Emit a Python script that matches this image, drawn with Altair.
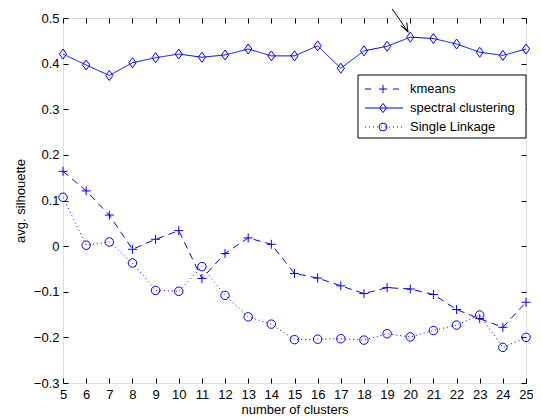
import altair as alt
import pandas as pd

# ---------------- data ----------------
clusters = list(range(5, 26))
kmeans = [0.164, 0.121, 0.068, -0.007, 0.015, 0.034, -0.071, -0.016, 0.018, 0.004,
          -0.060, -0.070, -0.087, -0.104, -0.091, -0.094, -0.106, -0.139, -0.159, -0.178, -0.123]
spectral = [0.421, 0.397, 0.374, 0.402, 0.413, 0.421, 0.414, 0.419, 0.432, 0.417,
            0.417, 0.439, 0.390, 0.428, 0.438, 0.458, 0.455, 0.443, 0.425, 0.418, 0.432]
single = [0.107, 0.002, 0.009, -0.037, -0.097, -0.099, -0.045, -0.108, -0.155, -0.171,
          -0.205, -0.204, -0.203, -0.206, -0.192, -0.199, -0.185, -0.173, -0.151, -0.222, -0.200]

series_names = ["kmeans", "spectral clustering", "Single Linkage"]
x_ticks = list(range(5, 26))
y_ticks = [-0.3, -0.2, -0.1, 0.0, 0.1, 0.2, 0.3, 0.4, 0.5]

# annotation arrow (data coordinates)
arrow_x = [19.22, 19.90]
arrow_y = [0.520, 0.470]

BLUE = "#0000ff"
FONT = "Liberation Sans"
FS = 13
W, H = 463, 365

xscale = alt.Scale(domain=[5, 25], nice=False, zero=False)
yscale = alt.Scale(domain=[-0.3, 0.5], nice=False, zero=False)

PLUS = "M-1,0L1,0M0,-1L0,1"
DIAMOND = "M0,-1L0.72,0L0,1L-0.72,0Z"

axis_common = dict(grid=False, domain=False, tickSize=5, offset=-5, tickColor="black",
                   tickWidth=1, labelFont=FONT, labelFontSize=FS, labelColor="black",
                   titleFont=FONT, titleFontSize=FS, titleFontWeight="normal",
                   titleColor="black", labelOverlap=False, labelFlush=False)

x_bottom = alt.Axis(orient="bottom", values=x_ticks, format="d", labelPadding=5,
                    title="number of clusters", titlePadding=2, **axis_common)
y_left = alt.Axis(orient="left", values=y_ticks, format=".1~f", labelPadding=4,
                  title="avg. silhouette", titlePadding=6, **axis_common)
x_top = alt.Axis(orient="top", values=x_ticks, labels=False, title=None, **axis_common)
y_right = alt.Axis(orient="right", values=y_ticks, labels=False, title=None, **axis_common)

styles = {
    "kmeans": dict(vals=kmeans, dash=[7, 5], legdash=[6, 22], shape=PLUS, size=80),
    "spectral clustering": dict(vals=spectral, dash=[1, 0], legdash=[1, 0], shape=DIAMOND, size=100),
    "Single Linkage": dict(vals=single, dash=[1, 3], legdash=[1, 3], shape="circle", size=72),
}

layers = []
for i, name in enumerate(series_names):
    st = styles[name]
    df = pd.DataFrame({"clusters": clusters, "value": st["vals"]})
    if i == 0:
        xa, ya = x_bottom, y_left
    elif i == 1:
        xa, ya = x_top, y_right
    else:
        xa, ya = None, None
    line = alt.Chart(df).mark_line(color=BLUE, strokeWidth=1, strokeDash=st["dash"], clip=False).encode(
        x=alt.X("clusters:Q", scale=xscale, axis=xa),
        y=alt.Y("value:Q", scale=yscale, axis=ya),
    )
    pts = alt.Chart(df).mark_point(shape=st["shape"], size=st["size"], filled=False, color=BLUE,
                                   strokeWidth=1, opacity=1, clip=False).encode(
        x=alt.X("clusters:Q", scale=xscale, axis=None),
        y=alt.Y("value:Q", scale=yscale, axis=None),
    )
    layers += [line, pts]

# arrow annotation
arrow_df = pd.DataFrame({"x": [arrow_x[0]], "y": [arrow_y[0]], "x2": [arrow_x[1]], "y2": [arrow_y[1]]})
arrow_line = alt.Chart(arrow_df).mark_rule(color="black", strokeWidth=1, clip=False).encode(
    x=alt.X("x:Q", scale=xscale, axis=None), y=alt.Y("y:Q", scale=yscale, axis=None),
    x2="x2:Q", y2="y2:Q")
head_df = pd.DataFrame({"x": [arrow_x[1]], "y": [arrow_y[1]]})
arrow_head = alt.Chart(head_df).mark_point(shape="M-0.38,-1L0,0L0.38,-1", size=300, angle=332,
                                           filled=False, color="black", strokeWidth=1, opacity=1,
                                           clip=False).encode(
    x=alt.X("x:Q", scale=xscale, axis=None), y=alt.Y("y:Q", scale=yscale, axis=None))
layers += [arrow_line, arrow_head]

# legend box
one = pd.DataFrame({"a": [0]})
layers.append(alt.Chart(one).mark_rect(fill="white", stroke="black", strokeWidth=1).encode(
    x=alt.value(295), x2=alt.value(463), y=alt.value(57), y2=alt.value(120)))
row_y = [71, 90, 109]
for name, ry in zip(series_names, row_y):
    st = styles[name]
    layers.append(alt.Chart(one).mark_rule(color=BLUE, strokeWidth=1, strokeDash=st["legdash"]).encode(
        x=alt.value(302), x2=alt.value(340), y=alt.value(ry)))
    layers.append(alt.Chart(one).mark_point(shape=st["shape"], size=st["size"] * 0.85, filled=False,
                                            color=BLUE, strokeWidth=1, opacity=1).encode(
        x=alt.value(320), y=alt.value(ry)))
    layers.append(alt.Chart(pd.DataFrame({"label": [name]})).mark_text(
        align="left", baseline="middle", font=FONT, fontSize=FS, color="black").encode(
        x=alt.value(347), y=alt.value(ry), text="label:N"))

chart = alt.layer(*layers).resolve_axis(x="independent", y="independent").properties(
    width=W, height=H,
    autosize=alt.AutoSizeParams(type="none"),
    padding={"left": 55, "top": 10, "right": 7, "bottom": 35},
).configure_view(stroke="black", strokeWidth=1).configure(background="white")

chart.save("out.html", embed_options={"renderer": "svg", "actions": False})
